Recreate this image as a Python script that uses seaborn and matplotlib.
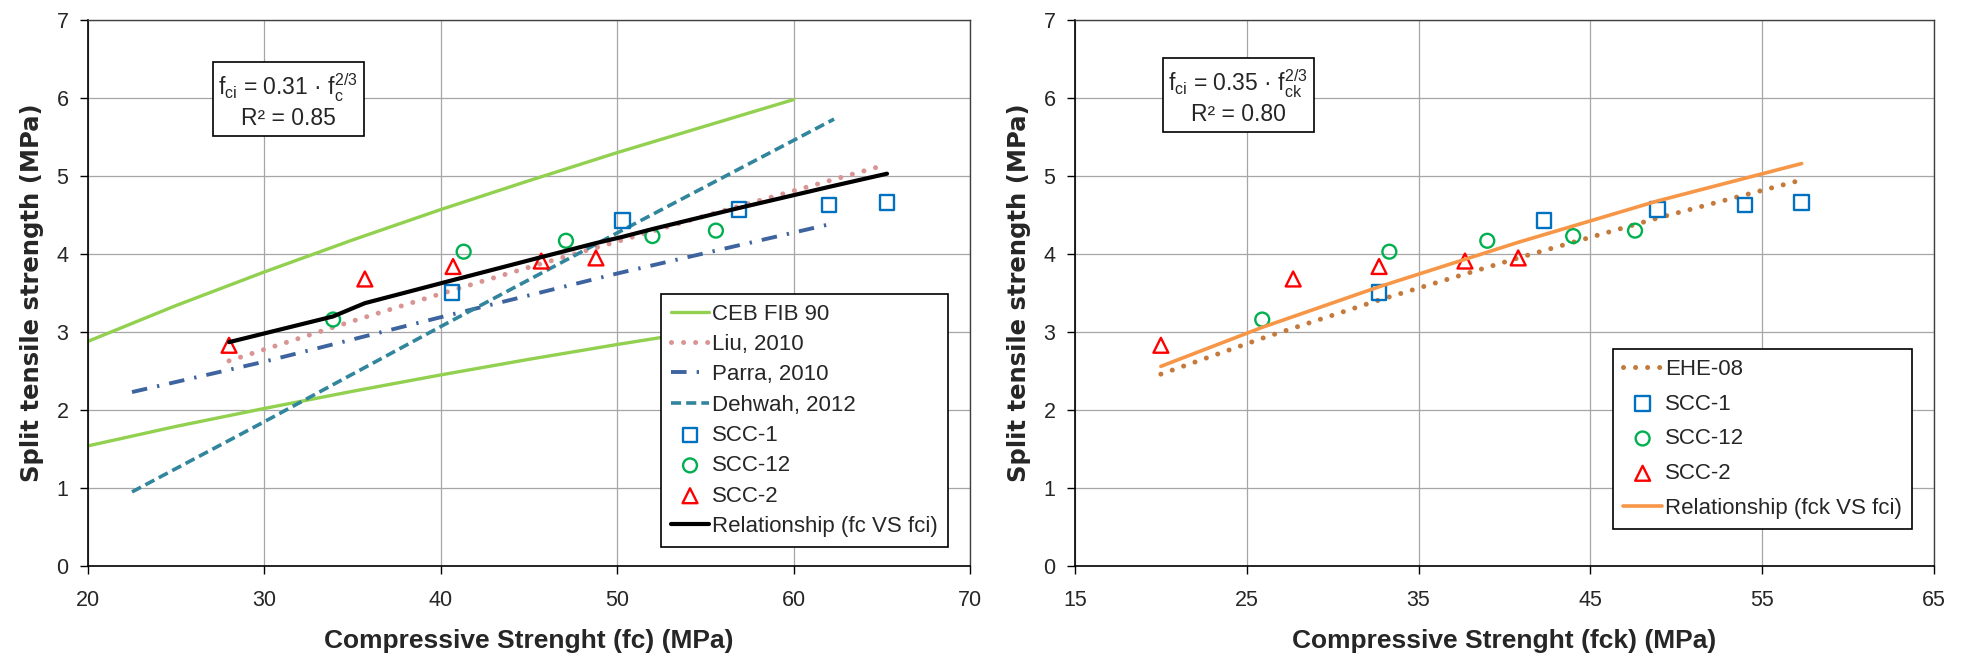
import seaborn as sns
import matplotlib.pyplot as plt

# ---- left chart: fc vs fci ----
ceb_fc = [20, 25, 30, 35, 40, 45, 50, 55, 60]
ceb_upper = [2.88, 3.34, 3.77, 4.18, 4.57, 4.94, 5.30, 5.64, 5.98]
ceb_lower = [1.54, 1.79, 2.02, 2.24, 2.45, 2.65, 2.84, 3.02, 3.20]

liu_fc = [28, 35, 40, 45, 50, 55, 60, 65]
liu_fci = [2.63, 3.14, 3.49, 3.83, 4.16, 4.49, 4.81, 5.13]

parra_fc = [22.5, 30, 40, 50, 62.2]
parra_fci = [2.23, 2.62, 3.19, 3.75, 4.39]

dehwah_fc = [22.5, 30, 40, 50, 62.3]
dehwah_fci = [0.95, 1.85, 3.07, 4.27, 5.73]

scc1_fc = [40.65, 50.3, 56.9, 62.0, 65.3]
scc12_fc = [33.9, 41.3, 47.1, 52.0, 55.6]
scc2_fc = [28.0, 35.7, 40.7, 45.7, 48.8]

scc1_fci = [3.51, 4.43, 4.57, 4.63, 4.66]
scc12_fci = [3.16, 4.03, 4.17, 4.23, 4.30]
scc2_fci = [2.83, 3.68, 3.84, 3.91, 3.95]

rel_fc = [28.0, 33.9, 35.7, 40.6, 45.7, 48.8, 50.3, 52.0, 56.9, 62.0, 65.3]
rel_fci = [2.87, 3.20, 3.37, 3.66, 3.96, 4.14, 4.22, 4.32, 4.59, 4.86, 5.03]

# ---- right chart: fck vs fci ----
scc1_fck = [32.7, 42.3, 48.9, 54.0, 57.3]
scc12_fck = [25.9, 33.3, 39.0, 44.0, 47.6]
scc2_fck = [20.0, 27.7, 32.7, 37.7, 40.8]

ehe_fck = [20.0, 25.9, 32.7, 40.8, 48.9, 57.3]
ehe_fci = [2.46, 2.92, 3.41, 3.95, 4.46, 4.95]
relk_fck = [20.0, 25.9, 32.7, 40.8, 48.9, 57.3]
relk_fci = [2.56, 3.06, 3.58, 4.15, 4.68, 5.16]

sns.set_style('white')
plt.rcParams['font.family'] = ['Liberation Sans', 'DejaVu Sans']
plt.rcParams['mathtext.default'] = 'regular'

fig = plt.figure(figsize=(19.71, 6.57), dpi=100)
ax1 = fig.add_axes([0.0446, 0.1385, 0.4475, 0.831])
ax2 = fig.add_axes([0.5454, 0.1385, 0.4358, 0.831])

dot = dict(linestyle=(0, (0.01, 2.4)), dash_capstyle='round')


def scatter_sets(ax, xs):
    sns.scatterplot(x=xs[0], y=scc1_fci, ax=ax, marker='s', s=110, color='none',
                    edgecolor='#0070C0', linewidth=1.7, label='SCC-1', zorder=4)
    sns.scatterplot(x=xs[1], y=scc12_fci, ax=ax, marker='o', s=100, color='none',
                    edgecolor='#00B050', linewidth=1.7, label='SCC-12', zorder=4)
    sns.scatterplot(x=xs[2], y=scc2_fci, ax=ax, marker='^', s=115, color='none',
                    edgecolor='#FF0000', linewidth=1.7, label='SCC-2', zorder=4)


# left
sns.lineplot(x=ceb_fc, y=ceb_upper, ax=ax1, color='#92D050', lw=2.4, label='CEB FIB 90')
sns.lineplot(x=ceb_fc, y=ceb_lower, ax=ax1, color='#92D050', lw=2.4)
sns.lineplot(x=liu_fc, y=liu_fci, ax=ax1, color='#D99594', lw=3.6, label='Liu, 2010', **dot)
sns.lineplot(x=parra_fc, y=parra_fci, ax=ax1, color='#3E64A0', lw=2.8,
             linestyle=(0, (4, 2.6, 0.6, 2.6)), label='Parra, 2010')
sns.lineplot(x=dehwah_fc, y=dehwah_fci, ax=ax1, color='#31859C', lw=2.6,
             linestyle=(0, (2.8, 1.4)), label='Dehwah, 2012')
scatter_sets(ax1, [scc1_fc, scc12_fc, scc2_fc])
sns.lineplot(x=rel_fc, y=rel_fci, ax=ax1, color='black', lw=3.0,
             label='Relationship (fc VS fci)', zorder=5)

# right
sns.lineplot(x=ehe_fck, y=ehe_fci, ax=ax2, color='#C47A3C', lw=3.6, label='EHE-08', **dot)
scatter_sets(ax2, [scc1_fck, scc12_fck, scc2_fck])
sns.lineplot(x=relk_fck, y=relk_fci, ax=ax2, color='#F79646', lw=2.6,
             label='Relationship (fck VS fci)', zorder=5)

left_order = ['CEB FIB 90', 'Liu, 2010', 'Parra, 2010', 'Dehwah, 2012',
              'SCC-1', 'SCC-12', 'SCC-2', 'Relationship (fc VS fci)']
right_order = ['EHE-08', 'SCC-1', 'SCC-12', 'SCC-2', 'Relationship (fck VS fci)']

for ax, xlim, xticks, order, anchor, lspace, xlabel, eq, r2, tpos in [
    (ax1, (20, 70), range(20, 71, 10), left_order, (0.975, 0.035), 0.42,
     'Compressive Strenght (fc) (MPa)', 'f$_{ci}$ = 0.31 · f$_{c}^{2/3}$', 'R² = 0.85', (0.227, 0.852)),
    (ax2, (15, 65), range(15, 66, 10), right_order, (0.974, 0.068), 0.62,
     'Compressive Strenght (fck) (MPa)', 'f$_{ci}$ = 0.35 · f$_{ck}^{2/3}$', 'R² = 0.80', (0.19, 0.859)),
]:
    ax.set_xlim(*xlim)
    ax.set_ylim(0, 7)
    ax.set_xticks(list(xticks))
    ax.set_yticks(range(0, 8))
    ax.grid(True, color='#A6A6A6', lw=0.9)
    ax.set_axisbelow(True)
    ax.tick_params(direction='out', length=6, width=1, labelsize=15.5, pad=8,
                   left=True, bottom=True, color='black')
    ax.tick_params(axis='x', pad=11)
    for side in ['left', 'bottom']:
        ax.spines[side].set_color('black')
        ax.spines[side].set_linewidth(1.2)
    for side in ['top', 'right']:
        ax.spines[side].set_color('#404040')
        ax.spines[side].set_linewidth(1.0)
    ax.set_xlabel(xlabel, fontsize=19, fontweight='bold', labelpad=13)
    ax.set_ylabel('Split tensile strength (MPa)', fontsize=17.5, fontweight='bold',
                  family='DejaVu Sans', labelpad=9)
    ax.text(tpos[0], tpos[1], eq + '\n' + r2, transform=ax.transAxes, ha='center',
            va='center', multialignment='center', fontsize=16.5, zorder=6,
            bbox=dict(boxstyle='square,pad=0.25', fc='white', ec='black', lw=1.2))
    h, l = ax.get_legend_handles_labels()
    lookup = dict(zip(l, h))
    leg = ax.legend([lookup[k] for k in order], order, loc='lower right',
                    bbox_to_anchor=anchor, fontsize=16, frameon=True, fancybox=False,
                    edgecolor='black', framealpha=1, handlelength=1.75,
                    handletextpad=0.12, labelspacing=lspace, borderpad=0.45,
                    borderaxespad=0)
    leg.get_frame().set_linewidth(1.2)
    leg.set_zorder(10)

fig.savefig('out.png', dpi=100)
